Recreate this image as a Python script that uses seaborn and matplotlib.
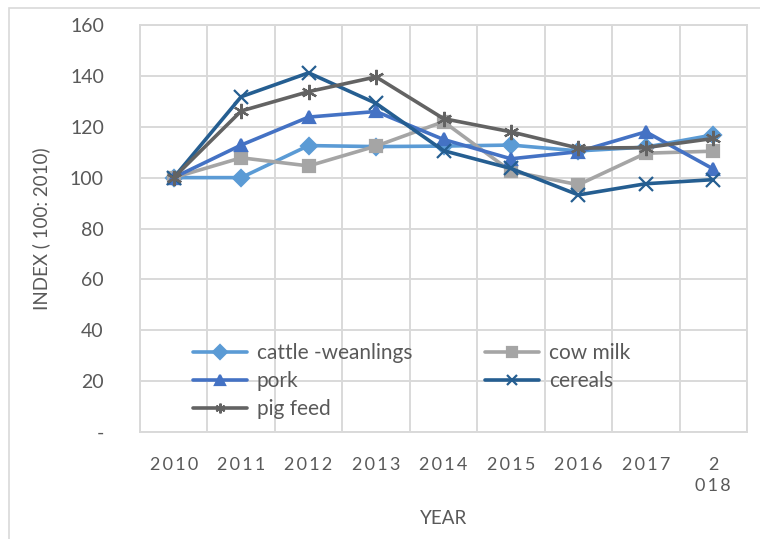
import seaborn as sns
import pandas as pd
import matplotlib.pyplot as plt
from matplotlib.patches import Rectangle

# index values (100 = 2010)
years = ['2010', '2011', '2012', '2013', '2014', '2015', '2016', '2017', '2018']
sp = '\u2009'
year_labels = [sp.join(y) for y in years[:-1]] + ['2\n' + sp.join('018')]
cattle = [100, 100, 112.6, 112.2, 112.4, 112.8, 110.5, 112, 116.8]
cow_milk = [100, 107.8, 104.6, 112.4, 122, 102.5, 97.2, 109.6, 110.4]
pork = [100, 112.8, 123.8, 126, 115, 107.4, 110.2, 118, 103.4]
cereals = [100, 131.8, 141.2, 129.2, 110.6, 103.6, 93.2, 97.6, 99.2]
pig_feed = [100, 126.2, 133.8, 139.6, 123.2, 118, 111.6, 111.8, 115.4]

series = {'cattle -weanlings': cattle, 'cow milk': cow_milk, 'pork': pork,
          'cereals': cereals, 'pig feed': pig_feed}
order = list(series.keys())

df = pd.DataFrame({'YEAR': years * len(series)})
df['pos'] = list(range(len(years))) * len(series)
df['product'] = [k for k in order for _ in years]
df['index'] = [v for k in order for v in series[k]]

palette = {'cattle -weanlings': '#5B9BD5', 'cow milk': '#A5A5A5', 'pork': '#4472C4',
           'cereals': '#255E91', 'pig feed': '#636363'}
markers = {'cattle -weanlings': 'D', 'cow milk': 's', 'pork': '^',
           'cereals': 'x', 'pig feed': (6, 2, 0)}
msizes = {'cattle -weanlings': 8, 'cow milk': 8.5, 'pork': 9,
          'cereals': 10, 'pig feed': 11}

sns.set_style("white")
plt.rcParams['font.family'] = ['Lato', 'DejaVu Sans']
txt = '#595959'
grid = '#D9D9D9'

fig = plt.figure(figsize=(7.6, 5.39), dpi=100)
ax = fig.add_axes([140 / 760, 1 - 432 / 539, 607 / 760, 407 / 539])

for name in order:
    sub = df[df['product'] == name]
    sns.lineplot(data=sub, x='pos', y='index', color=palette[name], marker=markers[name],
                 markersize=msizes[name], markeredgewidth=1.6, markeredgecolor=palette[name],
                 linewidth=2.6, label=name, ax=ax, zorder=3)

ax.set_xlim(-0.5, 8.5)
ax.set_ylim(0, 160)
ax.set_xticks(range(len(years)))
ax.set_xticklabels(year_labels, fontsize=13, color=txt, va='top', linespacing=1.35)
ax.set_xticks([i - 0.5 for i in range(len(years) + 1)], minor=True)
ax.set_yticks(range(0, 161, 20))
ax.set_yticklabels(['-'] + [str(v) for v in range(20, 161, 20)], fontsize=14, color=txt)
ax.tick_params(axis='both', which='both', length=0)
ax.tick_params(axis='x', pad=18)
ax.tick_params(axis='y', pad=26)
ax.grid(True, axis='y', which='major', color=grid, linewidth=1.4)
ax.grid(True, axis='x', which='minor', color=grid, linewidth=1.4)
ax.grid(False, axis='x', which='major')
for s in ax.spines.values():
    s.set_color(grid)
    s.set_linewidth(1.4)

ax.set_xlabel('YEAR', fontsize=13.5, color=txt, labelpad=12)
ax.set_ylabel('INDEX ( 100: 2010)', fontsize=13.5, color=txt, labelpad=14)

h, l = ax.get_legend_handles_labels()
lookup = dict(zip(l, h))
leg_order = ['cattle -weanlings', 'pork', 'pig feed', 'cow milk', 'cereals']
leg = ax.legend([lookup[k] for k in leg_order], leg_order, ncol=2, frameon=False,
                loc='upper left', bbox_to_anchor=(0.074, 0.239), borderaxespad=0,
                fontsize=15, handlelength=2.6, labelspacing=0.38, columnspacing=3.5,
                handletextpad=0.45, labelcolor=txt)
for line in leg.get_lines():
    line.set_markersize(7)

fig.patches.append(Rectangle((9 / 760, -0.1), 1.2, 1.1 - 8 / 539, transform=fig.transFigure,
                             fill=False, edgecolor=grid, linewidth=1.2))

fig.savefig('out.png', dpi=100)
